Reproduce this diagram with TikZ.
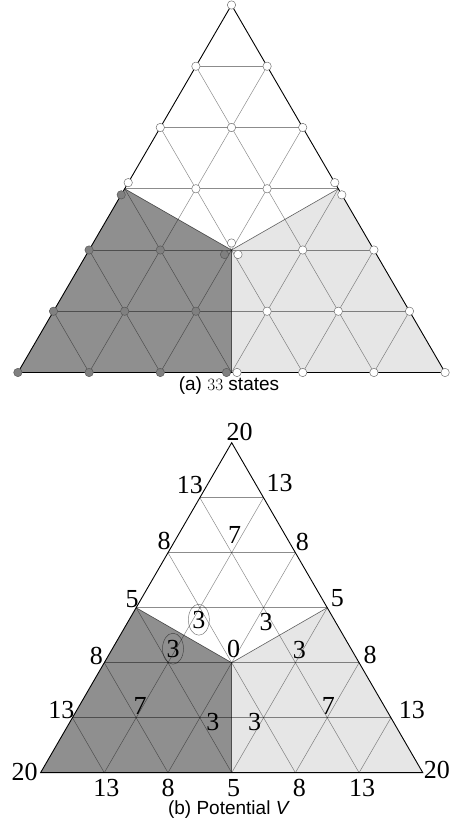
\documentclass[tikz,border=0pt]{standalone}
\usepackage{fontspec}
\usepackage{tikz}
\usetikzlibrary{calc,shapes.geometric}
\newfontfamily\numfont{Liberation Serif}
\newfontfamily\capfont{Liberation Sans}
\definecolor{darkreg}{RGB}{143,143,143}
\definecolor{lightreg}{RGB}{230,230,230}

\begin{document}
\begin{tikzpicture}[x=1pt,y=1pt,
  grid/.style={draw=black,draw opacity=0.45,line width=0.5pt},
  rim/.style={draw=black,line width=0.9pt},
  split/.style={draw=black,draw opacity=0.6,line width=0.6pt},
  wstate/.style={circle,draw=black!55,fill=white,line width=0.5pt,inner sep=0pt,minimum size=8.4pt},
  dstate/.style={circle,draw=black!65,fill=black!50,line width=0.5pt,inner sep=0pt,minimum size=8.4pt},
  num/.style={font=\numfont\fontsize{26}{26}\selectfont,inner sep=0pt},
  ring/.style={num,ellipse,draw=black,draw opacity=0.5,line width=0.5pt,minimum width=21pt,minimum height=31pt},
  capt/.style={font=\capfont\fontsize{19}{19}\selectfont,inner sep=0pt}
]
\useasboundingbox (0,0) rectangle (458,828);

% Grid points of both triangles
\foreach \i in {0,...,6}
  \foreach \j in {0,...,\i} {
    \coordinate (t-\i-\j) at ({231.5+(\j-\i/2)*71.2},{823-\i*61.25});
    \coordinate (b-\i-\j) at ({231.7+(\j-\i/2)*63.7},{385.3-\i*55});
  }

% Regions (filled first, grid on top)
\foreach \t in {t,b} {
  \fill[darkreg]  (\t-6-0) -- (\t-3-0) -- (\t-4-2) -- (\t-6-3) -- cycle;
  \fill[lightreg] (\t-6-3) -- (\t-4-2) -- (\t-3-3) -- (\t-6-6) -- cycle;
  \foreach \k in {1,...,5} {
    \pgfmathtruncatemacro\r{6-\k}
    \draw[grid] (\t-\k-0) -- (\t-\k-\k);
    \draw[grid] (\t-\k-0) -- (\t-6-\r);
    \draw[grid] (\t-\k-\k) -- (\t-6-\k);
  }
  \draw[split] (\t-3-0) -- (\t-4-2) -- (\t-3-3);
  \draw[split] (\t-4-2) -- (\t-6-3);
  \draw[rim] (\t-0-0) -- (\t-6-0) -- (\t-6-6) -- cycle;
}

% (a) states
\foreach \i/\j in {0/0,1/0,1/1,2/0,2/1,2/2,3/1,3/2,4/3,4/4,5/3,5/4,5/5,6/4,6/5,6/6}
  \node[wstate] (s-\i-\j) at (t-\i-\j) {};
\foreach \i/\j in {4/0,4/1,5/0,5/1,5/2,6/0,6/1,6/2}
  \node[dstate] (s-\i-\j) at (t-\i-\j) {};
% states split between two or three regions
\node[wstate] (s-3-0a) at ($(t-3-0)+(3.5,6.1)$)   {};
\node[dstate] (s-3-0b) at ($(t-3-0)+(-3.5,-6.1)$) {};
\node[wstate] (s-3-3a) at ($(t-3-3)+(-3.5,6.1)$)  {};
\node[wstate] (s-3-3b) at ($(t-3-3)+(3.5,-6.1)$)  {};
\node[wstate] (s-4-2a) at ($(t-4-2)+(0,7)$)       {};
\node[dstate] (s-4-2b) at ($(t-4-2)+(-7,-4.5)$)   {};
\node[wstate] (s-4-2c) at ($(t-4-2)+(6.5,-4.5)$)  {};
\node[dstate] (s-6-3a) at ($(t-6-3)+(-5,0)$)      {};
\node[wstate] (s-6-3b) at ($(t-6-3)+(5.5,0)$)     {};

\node[capt] (capa) at (229,442) {(a) $33$ states};

% (b) potential values, rim
\foreach \i/\j/\dx/\dy/\v in {0/0/8/11/20,1/0/-10/13/13,1/1/16/15/13,2/0/-4/12/8,2/2/7/11/8,
    3/0/-4/9/5,3/3/10/10/5,4/0/-8/7/8,4/4/11/8/8,5/0/-11/8/13,5/5/21/8/13,
    6/0/-16/1/20,6/6/14/3/20,6/1/2/-15/13,6/2/0/-15/8,6/3/2/-15/5,6/4/4/-15/8,6/5/3/-15/13}
  \node[num] (v-\i-\j) at ($(b-\i-\j)+(\dx,\dy)$) {\v};
% inside
\node[num]  (v-2-1) at ($(b-2-1)+(3,18)$)   {7};
\node[ring] (v-3-1) at ($(b-3-1)+(-1,-12)$) {3};
\node[num]  (v-3-2) at ($(b-3-2)+(2.5,-14)$) {3};
\node[num]  (v-4-2) at ($(b-4-2)+(2,14)$)   {0};
\node[ring] (v-4-1) at ($(b-4-1)+(5,14)$)   {3};
\node[num]  (v-4-3) at ($(b-4-3)+(4,13)$)   {3};
\node[num]  (v-5-1) at ($(b-5-1)+(4,12)$)   {7};
\node[num]  (v-5-2) at ($(b-5-2)+(13,-4)$)  {3};
\node[num]  (v-5-3) at ($(b-5-3)+(-9,-4)$)  {3};
\node[num]  (v-5-4) at ($(b-5-4)+(1,12)$)   {7};

\node[capt] (capb) at (229,18) {(b) Potential \textit{V}};
\end{tikzpicture}
\end{document}
